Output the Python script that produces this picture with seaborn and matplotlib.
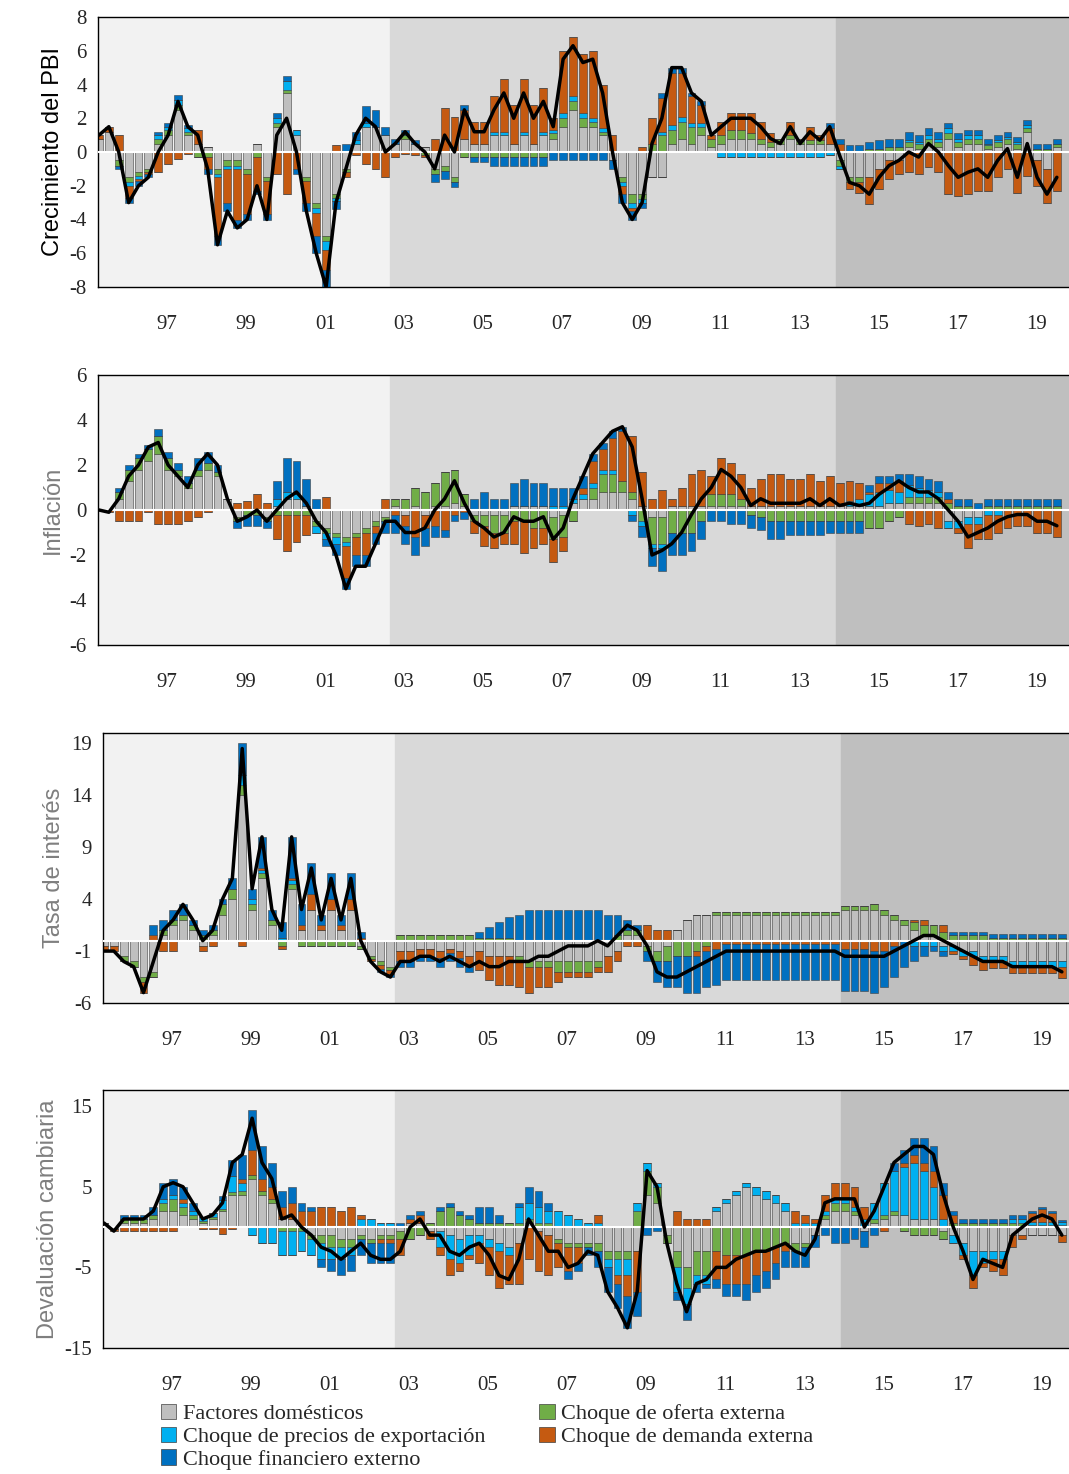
"""Historical decomposition chart: GDP, inflation, interest rate, devaluation."""
import matplotlib
matplotlib.use("Agg")
import matplotlib.pyplot as plt
from matplotlib.patches import Patch
import numpy as np
import pandas as pd
import seaborn as sns

sns.set_theme(style="white")
plt.rcParams["font.family"] = ["Liberation Serif", "DejaVu Serif"]

# quarters 1995Q3 .. 2019Q4
QUARTERS = pd.period_range("1995Q3", "2019Q4", freq="Q")
TICK_YEARS = [1997, 1999, 2001, 2003, 2005, 2007, 2009, 2011, 2013, 2015, 2017, 2019]
TICK_LABELS = ["97", "99", "01", "03", "05", "07", "09", "11", "13", "15", "17", "19"]
LEGEND = ["Factores domésticos", "Choque de oferta externa",
          "Choque de precios de exportación", "Choque de demanda externa",
          "Choque financiero externo"]

# ---------------- GDP growth ----------------
gdp_total = [1, 1.5,
    0, -3, -2, -1.5,  0, 1, 3, 1.5,  1, -1, -5.5, -3.5,  -4.5, -4, -2, -4,
    1, 2, 0, -3.5,  -6, -8, -3, -1,  1, 2, 1.5, 0,  0.5, 1.2, 0.5, 0,
    -1, 1, 0, 2.5,  1.2, 1.2, 2.5, 3.5,  2, 3.5, 2, 3,  1.5, 5.5, 6.3, 5.3,
    5.5, 3.5, 0, -3,  -4, -3, 0.5, 2,  5, 5, 3.5, 3,  1, 1.5, 2, 2,
    2, 1.5, 0.8, 0.5,  1.5, 0.5, 1.2, 0.7,  1.5, -0.2, -1.8, -2,  -2.5, -1.5, -0.8, -0.5,
    0, -0.3, 0.5, 0,  -0.8, -1.5, -1.2, -1,  -1.5, -0.5, 0.2, -1.5,  0.5, -1.5, -2.5, -1.5]
gdp_dom = [0.8, 1.2,
    -0.5, -1.5, -1.2, -1,  0.5, 1, 2.5, 1,  0.5, 0.3, -1, -0.5,  -0.5, -1, 0.5, -1.5,
    1.5, 3.5, 1, -1.5,  -3, -5, -2.5, -1,  0.5, 1.5, 1.5, 1,  0.5, 0.8, 0.5, 0.3,
    -1, -0.8, -1.5, 0.8,  0.5, 0.5, 1, 1,  0.5, 1, 0.5, 1,  0.8, 1.5, 2.5, 1.5,
    1.5, 1, -0.5, -1.5,  -2.5, -2.5, -1.5, -1.5,  0.5, 0.8, 0.5, 1,  0.3, 0.5, 0.8, 0.8,
    0.8, 0.5, 0.3, 0.5,  0.8, 0.5, 0.5, 0.5,  0.5, -0.5, -1.5, -1.5,  -1.5, -1, -0.5, -0.5,
    0.3, 0.2, 0.5, 0.3,  0.8, 0.3, 0.5, 0.5,  0.2, 0.3, 0.5, 0.2,  1.2, -0.5, -1, 0.3]
gdp_sup = [0, 0,
    -0.3, -0.3, -0.2, -0.2,  0.3, 0.3, 0.3, 0.2,  -0.3, -0.3, -0.3, -0.3,  -0.3, -0.3, -0.3, -0.2,
    0.2, 0.2, 0, -0.2,  -0.3, -0.3, -0.2, -0.2,  0, 0, 0, 0,  0, 0.2, 0, -0.2,
    -0.3, -0.3, -0.3, -0.3,  -0.3, -0.3, -0.3, -0.3,  -0.3, -0.3, -0.3, -0.3,  0.3, 0.5, 0.5, 0.5,
    0.3, 0.2, 0, -0.3,  -0.5, -0.3, 0.5, 1,  0.8, 1, 1, 0.5,  0.5, 0.5, 0.5, 0.5,
    0.3, 0.3, 0.3, 0.3,  0.2, 0.2, 0.2, 0.2,  0, -0.3, -0.3, -0.3,  0.2, 0.2, 0.3, 0.3,
    0.3, 0.3, 0.3, 0.3,  0.3, 0.3, 0.3, 0.3,  0.2, 0.3, 0.3, 0.3,  0.2, 0.2, 0.2, 0.2]
gdp_exp = [0, 0,
    0, -0.2, -0.2, 0,  0.2, 0.2, 0.3, 0.2,  0, 0, -0.2, -0.2,  -0.2, 0, 0, 0,
    0.3, 0.5, 0.3, 0,  -0.3, -0.5, -0.2, 0,  0.2, 0.2, 0, 0,  0, 0, 0, 0,
    0, 0, 0, 0,  0, 0, 0.2, 0.2,  0, 0.2, 0, 0.2,  0.2, 0.3, 0.3, 0.3,
    0.2, 0.2, 0, -0.2,  -0.3, -0.2, 0, 0.2,  0.3, 0.3, 0.2, 0.2,  0, -0.3, -0.3, -0.3,
    -0.3, -0.3, -0.3, -0.3,  -0.3, -0.3, -0.3, -0.3,  -0.2, -0.2, 0, 0,  0, 0, 0, 0,
    0.1, 0.1, 0.2, 0.2,  0.3, 0.2, 0.2, 0.2,  0.1, 0.1, 0.1, 0.1,  0.2, 0, 0, 0]
gdp_fin = [0, 0,
    -0.2, -0.3, -0.3, -0.2,  0.2, 0.2, 0.3, 0.2,  0, -0.3, -0.5, -0.5,  -0.5, -0.3, -0.2, -0.3,
    0.3, 0.3, -0.3, -0.5,  -1, -1, -0.5, 0.5,  0.5, 1, 1, 0.5,  0.3, 0.3, 0.2, 0,
    -0.5, -0.5, -0.3, 0.3,  -0.3, -0.3, -0.5, -0.5,  -0.5, -0.5, -0.5, -0.5,  -0.5, -0.5, -0.5, -0.5,
    -0.5, -0.5, -0.5, -0.5,  -0.5, -0.3, 0, 0.3,  0.3, 0.3, 0.2, 0.2,  0, 0, 0, 0,
    0, 0, 0, 0,  0, 0, 0, 0,  0.3, 0.3, 0.4, 0.4,  0.4, 0.5, 0.5, 0.5,
    0.5, 0.4, 0.4, 0.4,  0.3, 0.3, 0.3, 0.3,  0.3, 0.3, 0.3, 0.3,  0.3, 0.3, 0.3, 0.3]

# ---------------- Inflation ----------------
inf_total = [0, -0.1,
    0.5, 1.5, 2, 2.8,  3, 2, 1.5, 1,  2, 2.5, 2, 0.5,  -0.5, -0.3, 0, -0.5,
    0, 0.5, 0.8, 0.3,  -0.5, -1, -2, -3.5,  -2.5, -2.5, -1.5, -0.5,  -0.5, -1, -1, -0.8,
    0, 0.5, 1.3, 0.3,  -0.5, -0.8, -1.2, -1,  -0.3, -0.5, -0.5, -0.3,  -1.3, -0.8, 0.5, 1.5,
    2.5, 3, 3.5, 3.7,  2.8, 0.5, -2, -1.8,  -1.5, -1, -0.2, 0.5,  1, 1.8, 1.5, 1,
    0.2, 0.5, 0.3, 0.3,  0.3, 0.3, 0.5, 0.2,  0.5, 0.2, 0.3, 0.2,  0.3, 0.7, 1, 1.3,
    1, 0.8, 0.8, 0.5,  0, -0.5, -1.2, -1,  -0.8, -0.5, -0.3, -0.2,  -0.2, -0.5, -0.5, -0.7]
inf_dom = [0, 0,
    0.5, 1.3, 1.8, 2.2,  2.5, 1.8, 1.5, 1,  1.5, 1.8, 1.5, 0.5,  -0.3, 0, 0, -0.3,
    0.2, 0.5, 0.5, 0.2,  -0.5, -0.8, -1, -1.2,  -1, -0.8, -0.5, -0.3,  0.2, -0.2, 0.2, -0.2,
    0.2, 0.2, 0.3, 0.2,  -0.2, -0.2, -0.2, -0.2,  0.2, 0.2, 0.2, 0.2,  -0.3, -0.2, 0.3, 0.5,
    0.5, 0.8, 0.8, 0.8,  0.5, 0.2, -0.3, -0.3,  0.2, 0.2, 0.2, 0.2,  0.2, 0.2, 0.2, 0.2,
    0.2, 0.2, 0.2, 0.2,  0.2, 0.2, 0.2, 0.2,  0.2, 0.2, 0.2, 0.2,  0.2, 0.2, 0.3, 0.3,
    0.3, 0.3, 0.3, 0.3,  -0.5, -0.5, -0.3, -0.3,  0, 0, 0, 0,  0, 0, 0, 0]
inf_sup = [0, 0,
    0.3, 0.5, 0.5, 0.5,  0.8, 0.5, 0.3, 0.2,  0.3, 0.3, 0.2, 0,  -0.2, -0.2, -0.2, -0.2,
    -0.2, -0.2, -0.2, -0.2,  -0.2, -0.2, -0.2, -0.2,  -0.2, -0.2, -0.2, -0.2,  0.3, 0.5, 0.8, 0.8,
    1, 1.5, 1.5, 0.5,  -0.3, -0.5, -0.8, -0.8,  -0.5, -0.5, -0.8, -0.8,  -1, -1, -0.5, 0,
    0.5, 0.8, 0.8, 0.5,  0.3, -0.5, -1.2, -1.2,  -1, -1, -1, -0.5,  0.5, 0.5, 0.5, 0.3,
    -0.2, -0.3, -0.5, -0.5,  -0.5, -0.5, -0.5, -0.5,  -0.5, -0.5, -0.5, -0.5,  -0.8, -0.8, -0.5, -0.3,
    0.3, 0.3, 0.3, 0.3,  0.3, 0.2, 0.2, 0,  0.2, 0.2, 0.2, 0.2,  0.2, 0.2, 0.2, 0.2]
inf_exp = [0, 0,
    0, 0, 0, 0,  0, 0, 0, 0,  0, 0, 0, 0,  0, 0, 0, 0,
    0.3, 0.3, 0.2, 0,  -0.3, -0.3, -0.3, -0.2,  0, 0, 0, 0,  0, 0, 0, 0,
    0, 0, 0, 0,  0, 0, 0, 0,  0, 0, 0, 0,  0.2, 0.2, 0.2, 0.2,
    0.2, 0.2, 0.2, 0,  -0.2, -0.2, -0.2, -0.2,  0, 0, 0, 0,  0, 0, 0, 0,
    0, 0, 0, 0,  0, 0, 0, 0,  0, 0, 0.2, 0.3,  0.5, 0.6, 0.6, 0.5,
    0.5, 0.4, 0.3, 0.2,  -0.3, -0.3, -0.3, -0.3,  -0.2, -0.2, 0, 0,  0, 0, 0, 0]
inf_fin = [0, 0,
    0.2, 0.2, 0.2, 0.2,  0.3, 0.3, 0.3, 0.3,  0.5, 0.5, 0.3, 0,  -0.3, -0.5, -0.5, -0.3,
    0.8, 1.5, 1.5, 1.2,  0.5, -0.3, -0.5, -0.5,  -0.5, -0.5, -0.5, -0.5,  -0.8, -0.8, -0.8, -0.8,
    -0.5, -0.3, -0.3, -0.3,  0.5, 0.8, 0.5, 0.5,  1, 1.2, 1, 1,  0.8, 0.8, 0.5, 0.5,
    0.3, 0.3, 0.3, 0.2,  -0.3, -0.5, -0.8, -1,  -1, -1, -0.8, -0.8,  -0.5, -0.5, -0.6, -0.6,
    -0.6, -0.6, -0.8, -0.8,  -0.6, -0.6, -0.6, -0.6,  -0.5, -0.5, -0.5, -0.5,  0.3, 0.3, 0.3, 0.3,
    0.5, 0.5, 0.5, 0.5,  0.3, 0.3, 0.3, 0.3,  0.3, 0.3, 0.3, 0.3,  0.3, 0.3, 0.3, 0.3]

# ---------------- Interest rate ----------------
int_total = [-1, -1,
    -2, -2.5, -5, -2,  1, 2, 3.5, 2,  0, 1, 4, 6,  18.5, 5, 10, 3,
    1, 10, 3, 7,  2, 6, 2, 6,  0, -2, -3, -3.5,  -2, -2, -1.5, -1.5,
    -2, -1.5, -2, -2.5,  -2, -2.5, -2.5, -2,  -2, -2, -1.5, -1.5,  -1, -0.5, -0.5, -0.5,
    0, -0.5, 0.5, 1.5,  1, -0.5, -3, -3.5,  -3.5, -3, -2.5, -2,  -1.5, -1, -1, -1,
    -1, -1, -1, -1,  -1, -1, -1, -1,  -1, -1.5, -1.5, -1.5,  -1.5, -1.5, -1, -0.5,
    0, 0.5, 0.5, 0,  -0.5, -1, -1.5, -2,  -2, -2, -2.5, -2.5,  -2.5, -2.5, -2.5, -3]
int_dom = [-0.5, -0.5,
    -1.5, -2, -3.5, -3,  0.5, 1.5, 2, 1,  -0.5, 0.5, 2.5, 4,  14, 3, 6, 1.5,
    0, 5, 1, 3,  1, 3, 1, 3,  -0.5, -1.5, -2, -2.5,  -1, -1, -0.8, -0.8,
    -1, -0.8, -1, -1.5,  -1, -1.5, -1.5, -1.5,  -1.5, -2, -2, -2,  -2, -2, -2, -2,
    -2, -1.5, -1, 0.5,  0.5, -0.5, -1, -0.5,  1, 2, 2.5, 2.5,  2.5, 2.5, 2.5, 2.5,
    2.5, 2.5, 2.5, 2.5,  2.5, 2.5, 2.5, 2.5,  2.5, 3, 3, 3,  3, 2.5, 2, 1.5,
    1, 0.5, 0.5, -0.5,  -0.5, -1, -1, -1.5,  -1.5, -1.5, -2, -2,  -2, -2, -2, -2]
int_sup = [0, 0,
    -0.5, -0.5, -0.5, -0.5,  0.5, 0.5, 0.5, 0.5,  0.5, 0.5, 1, 1,  1, 0.5, 0.5, 0.5,
    -0.5, 0.5, -0.5, -0.5,  -0.5, -0.5, -0.5, -0.5,  -0.3, -0.3, -0.3, -0.3,  0.5, 0.5, 0.5, 0.5,
    0.5, 0.5, 0.5, 0.5,  0.3, 0.3, 0.3, 0.3,  -0.5, -0.5, -0.5, -0.5,  -1, -1, -1, -1,
    -0.5, 0, 0.5, 0.5,  0.5, -0.5, -1, -1.5,  -1.5, -1.5, -1, -0.5,  0.3, 0.3, 0.3, 0.3,
    0.3, 0.3, 0.3, 0.3,  0.3, 0.3, 0.3, 0.3,  0.3, 0.3, 0.3, 0.3,  0.5, 0.5, 0.5, 0.5,
    0.8, 1, 1, 0.8,  0.5, 0.5, 0.5, 0.5,  0.3, 0.3, 0.3, 0.3,  0.3, 0.3, 0.3, 0.3]
int_exp = [0, 0,
    0, 0, 0, 0,  0, 0, 0, 0,  0, 0, 0, 0,  1, 0.5, 0.3, 0,
    0.3, 0.3, 0, 0,  0, 0, 0, 0,  0, 0, 0, 0,  0, 0, 0, 0,
    0, 0, 0, 0,  0, 0, 0, 0,  0, 0, 0, 0,  0, 0, 0, 0,
    0, 0, 0, 0,  0, 0, 0, 0,  0, 0, 0, 0,  0, 0, 0, 0,
    0, 0, 0, 0,  0, 0, 0, 0,  0, 0, 0, 0,  0, 0, 0, 0,
    -0.5, -0.5, -0.5, -0.5,  -0.5, -0.5, -0.5, -0.5,  -0.5, -0.5, -0.5, -0.5,  -0.5, -0.5, -0.5, -0.5]
int_fin = [0, 0,
    0, 0, 0, 1,  1, 1, 1, 0.5,  0.5, 0.5, 0.5, 1,  3, 1, 3, 1,
    1.5, 4, 2, 3,  1, 2.5, 1, 2.5,  0.5, 0, -0.3, -0.3,  -0.5, -0.5, -0.5, -0.5,
    -0.8, -0.8, -0.8, -0.5,  0.5, 1, 1.5, 2,  2.5, 3, 3, 3,  3, 3, 3, 3,
    3, 2.5, 2, 1,  0.5, -1, -2, -2.5,  -3, -3.5, -3.5, -3.5,  -3.5, -3.5, -3.5, -3.5,
    -3.5, -3.5, -3.5, -3.5,  -3.5, -3.5, -3.5, -3.5,  -3.5, -4, -4, -4,  -4, -3.5, -3, -2.5,
    -1.5, -1, -0.5, -0.5,  0.3, 0.3, 0.3, 0.3,  0.3, 0.3, 0.3, 0.3,  0.3, 0.3, 0.3, 0.3]

# ---------------- Exchange rate devaluation ----------------
dev_total = [0.5, -0.5,
    1, 1, 1, 2,  5, 5.5, 5, 3,  1, 1.5, 3, 8,  9, 13.5, 8, 6,
    1, 1.5, 0, -1,  -2.5, -3, -4, -3,  -2, -3.5, -4, -4,  -3, 0, 1, -1,
    -1, -3, -3.5, -2.5,  -2, -3.5, -6, -6.5,  -4, 1, -1, -3,  -3, -5, -4.5, -3,
    -3.5, -8, -10, -12.5,  -8, 7, 5, -2,  -7, -10.5, -7, -6.5,  -5, -5, -4, -3.5,
    -3, -3, -2.5, -2,  -3, -3.5, -1.5, 3,  3.5, 3.5, 3.5, 0,  2, 5, 8, 9,
    10, 10, 9, 4,  0, -3, -6.5, -4,  -4.5, -5, -1, 0,  1, 1.5, 1, -1]
dev_dom = [0.5, -0.3,
    0.5, 0.5, 0.5, 1,  2, 2, 1.5, 1,  0.5, 1, 2, 4,  4, 6, 4, 3,
    1, 1, 0, -1,  -1, -1, -1.5, -1.5,  -1, -1.5, -1, -1,  -0.5, 0.5, 0.5, -0.5,
    -0.5, -1, -1.5, -1,  -1, -1.5, -2, -2.5,  -2, 0.5, -0.5, -1,  -1.5, -2, -2, -2,
    -2, -3, -3, -3,  -3, 4, 3, -1,  -3, -5, -3, -3,  2, 3, 4, 5,
    4, 3.5, 3, 2,  -2, -2, -1, 1,  2, 2, 1.5, -0.5,  0.5, 1, 1.5, 1.5,
    1, 1, 1, -0.5,  -1, -2, -3, -3,  -3, -3, -1, -1,  -1, -1, -1, -1]
dev_sup = [0, 0,
    0.5, 0.5, 0.5, 0.5,  1, 1.5, 1, 0.5,  0.3, 0.3, 0.3, 0.3,  0.5, 0.5, 0.5, 0.5,
    -0.5, -0.5, -0.5, -0.5,  -1, -1.5, -1, -1,  -0.5, -0.5, -0.5, -0.5,  -1, -1.5, -1, 0.5,
    2, 2.5, 1.5, 1,  0.5, 0.5, 0.5, 0.5,  0.5, 0.5, 0.5, 0.5,  -0.5, -0.5, -0.5, -0.5,
    -1, -1, -1, -1,  2, 3, 2, -1,  -2, -2.5, -3, -3,  -3, -3.5, -3.5, -3.5,
    -3, -3, -2.5, -2,  -1, -0.5, 0, 0.5,  1, 1, 0.5, 0,  0.5, 0.5, 0.5, -0.5,
    -1, -1, -1, -1,  0.5, 0.5, 0.5, 0.5,  0.5, 0.5, 0.5, 0.5,  0.3, 0.3, 0.3, 0.3]
dev_exp = [0, 0,
    0, 0, 0, 0,  0.5, 0.5, 0.5, 0.5,  0.5, 0.5, 1, 2,  1, -1, -2, -2,
    -3, -3, -2.5, -2,  -2, -1.5, -1.5, -1,  1, 1, 0.5, 0.5,  0, 0, 0, 0,
    -2, -3, -3, -2.5,  -1, -1, -1, -1,  2, 2, 2, 1.5,  2, 1.5, 1, 0.5,
    0.5, -1, -2, -2,  1, 1, 0.5, 0,  -3, -2, -1, -1,  0.5, 0.5, 0.5, 0.5,
    1, 1, 1, 1,  0.5, 0.5, 0.5, 0.5,  0.5, 0.5, 0.5, 1,  2, 4, 5, 6,
    7, 6, 4, 1,  -1, -1.5, -3, -1.5,  -1, -1, 0.5, 0.5,  0.3, 0.3, 0.3, 0.3]
dev_fin = [0, 0,
    0.5, 0.5, 0.5, 1,  2, 2, 1.5, 1,  0, 0, 0.5, 2,  3, 5, 4, 3,
    2, 2, 1, 0.5,  -1, -1.5, -2, -2,  -2, -2.5, -2.5, -2.5,  0.5, 0.5, 0.5, 0,
    0.5, 0.5, 0.5, 0.5,  2, 2, 1, 0,  0.5, 2, 2, 1,  0, -1, -1, -1,
    -2, -3, -3, -4,  -3, -1, -0.5, 0,  -1, -2, -1, -0.5,  -1, -1.5, -1.5, -2,
    -2, -2, -2, -2,  -2, -2.5, -1.5, -1,  -2, -2, -1.5, -2,  -1, 0, 1, 1.5,
    2, 3, 3, 1.5,  0.5, 0.5, 0.5, 0.5,  0.5, 0.5, 0.5, 0.5,  0.3, 0.3, 0.3, 0.3]

COLORS = ["#BFBFBF", "#70AD47", "#00B0F0", "#C55A11", "#0070C0"]

PANELS = [
    # (total, dom, sup, exp, fin, ylabel, ylim, yticks, label color, axes px)
    (gdp_total, gdp_dom, gdp_sup, gdp_exp, gdp_fin, "Crecimiento del PBI",
     (-8, 8), [-8, -6, -4, -2, 0, 2, 4, 6, 8], "black", (98, 17, 287)),
    (inf_total, inf_dom, inf_sup, inf_exp, inf_fin, "Inflación",
     (-6, 6), [-6, -4, -2, 0, 2, 4, 6], "#7F7F7F", (98, 375, 645)),
    (int_total, int_dom, int_sup, int_exp, int_fin, "Tasa de interés",
     (-6, 20), [-6, -1, 4, 9, 14, 19], "#7F7F7F", (103, 733, 1003)),
    (dev_total, dev_dom, dev_sup, dev_exp, dev_fin, "Devaluación cambiaria",
     (-15, 17), [-15, -5, 5, 15], "#7F7F7F", (103, 1090, 1348)),
]

W, H = 1069, 1474
fig = plt.figure(figsize=(W / 100, H / 100), dpi=100)
x = np.array([q.year + (q.quarter - 1) * 0.25 + 0.125 for q in QUARTERS])
PX_PER_YEAR = 39.5

for total, dom, sup, exp_, fin, ylabel, ylim, yticks, lcol, (left, top, bottom) in PANELS:
    right = 1085
    ax = fig.add_axes([left / W, 1 - bottom / H, (right - left) / W, (bottom - top) / H])
    x0 = 1995.6
    x1 = x0 + (right - left) / PX_PER_YEAR
    ax.set_xlim(x0, x1)
    ax.set_ylim(*ylim)
    ax.axvspan(x0, 2003.0, color="#F2F2F2", zorder=0)
    ax.axvspan(2003.0, 2014.28, color="#D9D9D9", zorder=0)
    ax.axvspan(2014.28, x1, color="#BFBFBF", zorder=0)

    dem = np.array(total) - np.array(dom) - np.array(sup) - np.array(exp_) - np.array(fin)
    comps = [np.array(dom), np.array(sup), np.array(exp_), dem, np.array(fin)]
    pos = np.zeros(len(x))
    neg = np.zeros(len(x))
    for vals, col in zip(comps, COLORS):
        p = np.clip(vals, 0, None)
        n = np.clip(vals, None, 0)
        ax.bar(x, p, bottom=pos, width=0.2, color=col, edgecolor="#404040",
               linewidth=0.4, zorder=2)
        ax.bar(x, n, bottom=neg, width=0.2, color=col, edgecolor="#404040",
               linewidth=0.4, zorder=2)
        pos += p
        neg += n
    ax.axhline(0, color="white", linewidth=1.5, zorder=3)
    sns.lineplot(x=x, y=total, color="black", linewidth=2.5, ax=ax, zorder=4)

    ax.set_xticks([y + 0.35 for y in TICK_YEARS])
    ax.set_xticklabels(TICK_LABELS, fontsize=15)
    ax.set_yticks(yticks)
    ax.set_yticklabels([str(t) for t in yticks], fontsize=15)
    ax.tick_params(axis="x", length=0, pad=20)
    ax.tick_params(axis="y", length=0, pad=8)
    ax.set_ylabel(ylabel, fontsize=17, color=lcol, family=["Liberation Sans", "DejaVu Sans"])
    for s in ax.spines.values():
        s.set_color("black")
        s.set_linewidth(1)

# legend reads row-wise: dom, sup / exp, dem / fin
handles = [Patch(facecolor=c, edgecolor="#404040", linewidth=0.5) for c in COLORS]
order = [0, 2, 4, 1, 3]
fig.legend([handles[i] for i in order], [LEGEND[i] for i in order], ncol=2,
           loc="upper left", bbox_to_anchor=(152 / W, 1 - 1395 / H), frameon=False,
           fontsize=16, handlelength=0.7, handleheight=0.7, handletextpad=0.3,
           columnspacing=2.4, labelspacing=0.1, borderaxespad=0)

fig.savefig("out.png", dpi=100)
